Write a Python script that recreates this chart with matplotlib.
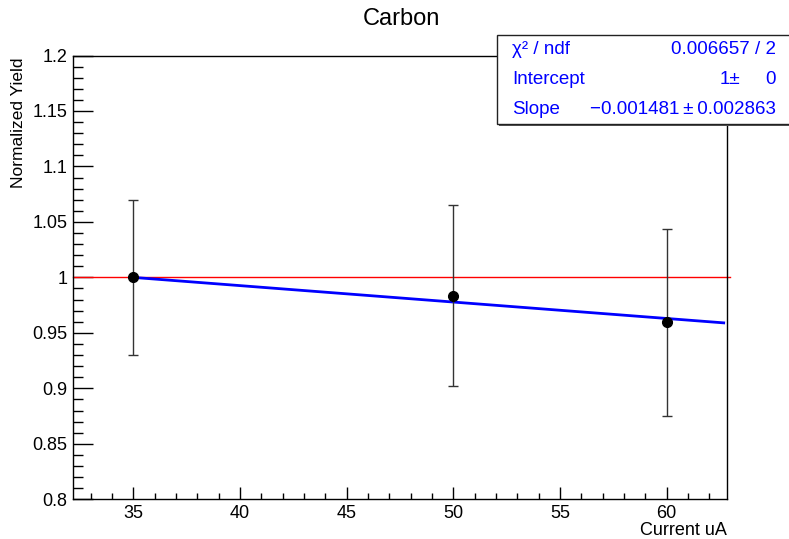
import matplotlib.pyplot as plt
from matplotlib.patches import Rectangle
from matplotlib.ticker import MultipleLocator, FormatStrFormatter

plt.rcParams['font.family'] = ['Liberation Sans', 'DejaVu Sans']

# measured yields vs beam current
current = [35, 50, 60]
yield_norm = [1.0, 0.9836, 0.9594]
yield_err = [0.070, 0.0815, 0.0845]

# linear fit, pivot at the first current setting
fit_intercept = 1.0
fit_slope = -0.001481
fit_slope_err = 0.002863
fit_chi2 = 0.006657
fit_ndf = 2
fit_x0 = 35
fit_xmax = 62.67

x_lim = (32.16, 62.81)
y_lim = (0.8, 1.2)

fig = plt.figure(figsize=(7.89, 5.39), dpi=100)
W, H = 789, 539
ax = fig.add_axes([72.7 / W, 1 - 499.3 / H, 654 / W, 443.8 / H])
ax.set_xlim(*x_lim)
ax.set_ylim(*y_lim)

# reference line at unity
ax.plot([x_lim[0], 62.96], [1, 1], color='#ff0000', lw=1.0, clip_on=False, zorder=2)

# fit line
fx = [fit_x0, fit_xmax]
fy = [fit_intercept + fit_slope * (x - fit_x0) for x in fx]
ax.plot(fx, fy, color='#0000ff', lw=2.0, zorder=3)

ax.errorbar(current, yield_norm, yerr=yield_err, fmt='o', color='black',
            ecolor='#333333', elinewidth=1.0, capsize=3.4, capthick=1.0,
            markersize=7, zorder=4)

for s in ax.spines.values():
    s.set_linewidth(1.0)

ax.xaxis.set_major_locator(MultipleLocator(5))
ax.xaxis.set_minor_locator(MultipleLocator(1))
ax.yaxis.set_major_locator(MultipleLocator(0.05))
ax.yaxis.set_minor_locator(MultipleLocator(0.01))
ax.yaxis.set_major_formatter(FormatStrFormatter('%g'))
ax.tick_params(axis='both', which='both', direction='in', top=False, right=False,
               labelsize=13, width=1.0)
ax.tick_params(axis='x', which='major', length=9, pad=4)
ax.tick_params(axis='x', which='minor', length=4.5)
ax.tick_params(axis='y', which='major', length=14.4, pad=4)
ax.tick_params(axis='y', which='minor', length=7.2)

fig.text(401 / W, 1 - 19 / H, 'Carbon', ha='center', va='center', fontsize=17)
fig.text(19 / W, 1 - 57 / H, 'Normalized Yield', rotation=90,
         ha='center', va='top', fontsize=12.5)
fig.text(727 / W, 1 - 530.5 / H, 'Current uA', ha='right', va='center', fontsize=13)

# fit statistics box
box_l, box_t, box_b = 497, 35, 124
fig.patches.append(Rectangle((box_l / W + 2 / W, 1 - (box_b + 2) / H),
                             (W - box_l) / W, (box_b - box_t) / H,
                             transform=fig.transFigure, facecolor='#555555',
                             edgecolor='none', zorder=9))
fig.patches.append(Rectangle((box_l / W, 1 - box_b / H),
                             (W - box_l + 10) / W, (box_b - box_t) / H,
                             transform=fig.transFigure, facecolor='white',
                             edgecolor='#222222', lw=1.0, zorder=10))

blue = '#0000ff'
row_h = (box_b - box_t) / 3
rows_y = [box_t + row_h * (i + 0.5) for i in range(3)]
fs = 13.5
labels = ['χ² / ndf', 'Intercept', 'Slope']
for lab, yy in zip(labels, rows_y):
    fig.text(512 / W, 1 - yy / H, lab, ha='left', va='center', color=blue,
             fontsize=fs, zorder=11)
fig.text(776 / W, 1 - rows_y[0] / H, f'{fit_chi2:g} / {fit_ndf}', ha='right',
         va='center', color=blue, fontsize=fs, zorder=11)
fig.text(740 / W, 1 - rows_y[1] / H, f'{fit_intercept:g}±', ha='right',
         va='center', color=blue, fontsize=fs, zorder=11)
fig.text(776 / W, 1 - rows_y[1] / H, '0', ha='right',
         va='center', color=blue, fontsize=fs, zorder=11)
slope_txt = f'{fit_slope:.6f}'.replace('-', '\u2212') + '\u2009±\u2009' + f'{fit_slope_err:.6f}'
fig.text(776 / W, 1 - rows_y[2] / H, slope_txt, ha='right',
         va='center', color=blue, fontsize=fs, zorder=11)

fig.savefig('out.png', dpi=100)
